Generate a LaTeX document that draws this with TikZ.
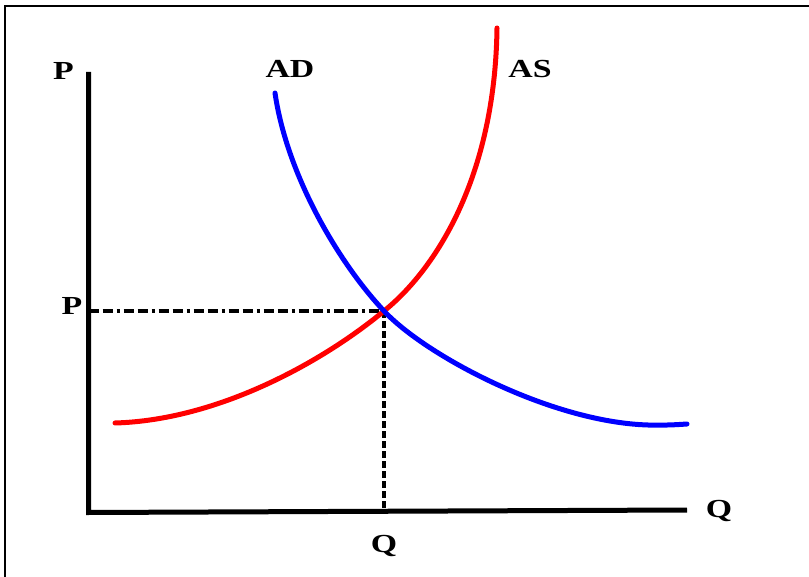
\documentclass[tikz,border=0pt]{standalone}
\usepackage{fontspec}
\setmainfont{Liberation Serif}
\begin{document}
\begin{tikzpicture}[x=1pt,y=-1pt,
  lbl/.style={font=\bfseries\fontsize{26}{26}\selectfont, inner sep=0pt, anchor=base, xscale=1.3},
  axis/.style={line width=5pt, line cap=butt},
  guide/.style={line width=3.5pt, dash pattern=on 10pt off 4pt on 10pt off 4pt on 3pt off 4pt},
  vguide/.style={line width=3.5pt, dash pattern=on 7pt off 3pt},
  adcurve/.style={blue, line width=5pt, line cap=round},
  ascurve/.style={red, line width=5pt, line cap=round}]
\useasboundingbox (0,0) rectangle (809,577);
\draw[line width=2.5pt] (5,577) -- (5,6) -- (809,6);
\coordinate (top) at (88.5,72);
\coordinate (org) at (88.5,510);
\coordinate (right) at (687,510);
\coordinate (eq) at (384,311);
\coordinate (peq) at (88.5,311);
\coordinate (qeq) at (384,510);
\coordinate (adstart) at (275,93);
\coordinate (admin) at (648,425);
\coordinate (adend) at (687,424);
\coordinate (asstart) at (115,423);
\coordinate (asend) at (497,28);
\draw[guide] (peq) -- (eq);
\draw[vguide] (eq) -- (qeq);
\draw[axis] (top) -- ([yshift=-2.5pt]org) -- (right);
\draw[ascurve] (asstart) .. controls (220,420) and (325,360) .. (eq)
  .. controls (435,270) and (495,178) .. (asend);
\draw[adcurve] (adstart) .. controls (287,175) and (338,262) .. (eq)
  .. controls (425,355) and (550,422) .. (admin)
  .. controls (668,425.4) and (678,424.6) .. (adend);
\node[lbl] (plbl) at (63.5,80) {P};
\node[lbl] (adlbl) at (290,78) {AD};
\node[lbl] (aslbl) at (530,78) {AS};
\node[lbl] (peqlbl) at (72,315) {P};
\node[lbl] (qlbl) at (719,517) {Q};
\node[lbl] (qeqlbl) at (384,552) {Q};
\end{tikzpicture}
\end{document}
